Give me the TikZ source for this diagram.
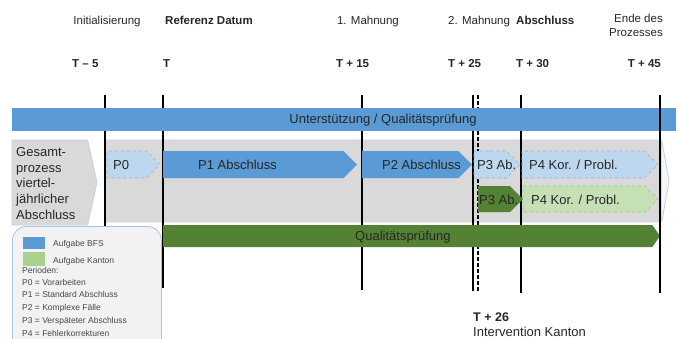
\documentclass[tikz,border=0pt]{standalone}
\usepackage{fontspec}
\setmainfont{Liberation Sans}
\usetikzlibrary{shapes.symbols}

\definecolor{bfsBlue}{HTML}{5B9BD5}
\definecolor{paleBlue}{HTML}{BDD7EE}
\definecolor{paleLine}{HTML}{8FB4DC}
\definecolor{procGray}{HTML}{D9D9D9}
\definecolor{procLine}{HTML}{C3D1E0}
\definecolor{procPale}{HTML}{F4F6F8}
\definecolor{darkGreen}{HTML}{548235}
\definecolor{paleGreen}{HTML}{C5E0B4}
\definecolor{greenLine}{HTML}{9CC585}
\definecolor{kantonGreen}{HTML}{A9D18E}
\definecolor{legendFill}{HTML}{F2F2F2}
\definecolor{legendLine}{HTML}{A9C4E4}
\definecolor{inkGray}{HTML}{262626}

\begin{document}
\begin{tikzpicture}[x = 1pt, y = -1pt]
	\tikzstyle{arrowStyle} = [shape = signal, signal to = east, inner sep = 0pt, outer sep = 0pt, anchor = west]
	\tikzstyle{boxStyle} = [shape = rectangle, inner sep = 0pt, outer sep = 0pt, anchor = west]
	\tikzstyle{bfsStyle} = [arrowStyle, fill = bfsBlue, minimum height = 27pt, signal pointer angle = 90]
	\tikzstyle{openStyle} = [arrowStyle, fill = paleBlue, draw = paleLine, dashed, line width = 0.6pt, minimum height = 27pt, signal pointer angle = 90]
	\tikzstyle{kantonStyle} = [arrowStyle, fill = darkGreen, minimum height = 26pt, signal pointer angle = 90]
	\tikzstyle{kantonOpenStyle} = [arrowStyle, fill = paleGreen, draw = greenLine, dashed, line width = 0.6pt, minimum height = 26pt, signal pointer angle = 90]
	\tikzstyle{timeLine} = [draw = black, line width = 1.3pt]
	\tikzstyle{headText} = [inner sep = 0pt, text = inkGray, font = \fontsize{11.5}{14}\selectfont]
	\tikzstyle{dayText} = [inner sep = 0pt, text = inkGray, font = \bfseries\fontsize{11.5}{14}\selectfont]
	\tikzstyle{barText} = [inner sep = 0pt, anchor = west, text = inkGray, font = \fontsize{13}{15.7}\selectfont]
	\tikzstyle{legendText} = [inner sep = 0pt, anchor = base west, text = inkGray!85, font = \fontsize{8.5}{10}\selectfont]

	\clip (0,0) rectangle (678,338);
	\fill[white] (0,0) rectangle (678,338);

	% process frame
	\node[arrowStyle, fill = procGray, draw = procLine, line width = 0.8pt, minimum width = 85pt, minimum height = 85pt, signal pointer angle = 155] (gesamt) at (12,182.5) {};
	\node[arrowStyle, fill = procPale, draw = procLine, line width = 0.8pt, minimum width = 564pt, minimum height = 82pt, signal pointer angle = 160] (frame) at (105,181) {};
	\node[boxStyle, fill = procGray, minimum width = 557pt, minimum height = 82pt] (frameFill) at (105,181) {};

	% time lines
	\coordinate (tm5Top) at (105,95);   \coordinate (tm5Bot) at (105,290);
	\coordinate (t0Top) at (163,95);    \coordinate (t0Bot) at (163,288);
	\coordinate (t15Top) at (362,95);   \coordinate (t15Bot) at (362,290);
	\coordinate (t25Top) at (473,95);   \coordinate (t25Bot) at (473,291);
	\coordinate (t26Top) at (478,95);   \coordinate (t26Bot) at (478,291);
	\coordinate (t30Top) at (521,95);   \coordinate (t30Bot) at (521,293);
	\coordinate (t45Top) at (660,95);   \coordinate (t45Bot) at (660,293);
	\draw[timeLine] (tm5Top) -- (tm5Bot);
	\draw[timeLine] (t0Top) -- (t0Bot);
	\draw[timeLine] (t15Top) -- (t15Bot);
	\draw[timeLine] (t25Top) -- (t25Bot);
	\draw[timeLine, line width = 1.1pt, dash pattern = on 4pt off 2pt] (t26Top) -- (t26Bot);
	\draw[timeLine] (t30Top) -- (t30Bot);

	% bars
	\node[boxStyle, fill = bfsBlue, minimum width = 664pt, minimum height = 23pt] (support) at (12,119.5) {};
	\node[openStyle, minimum width = 53pt] (p0) at (107,164.5) {};
	\node[bfsStyle, minimum width = 194pt] (p1) at (163,164.5) {};
	\node[bfsStyle, minimum width = 110pt] (p2) at (362,164.5) {};
	\node[openStyle, minimum width = 46pt] (p3Bfs) at (474,164.5) {};
	\node[openStyle, minimum width = 136pt] (p4Bfs) at (522,164.5) {};
	\node[kantonStyle, minimum width = 45pt] (p3Kanton) at (478,199) {};
	\node[kantonOpenStyle, minimum width = 135pt] (p4Kanton) at (523,199) {};
	\node[arrowStyle, fill = darkGreen, minimum width = 497pt, minimum height = 22pt, signal pointer angle = 110] (quality) at (163,236) {};

	% legend
	\node[shape = rectangle, anchor = north west, fill = legendFill, draw = legendLine, line width = 0.8pt, rounded corners = 14pt, minimum width = 149pt, minimum height = 130pt] (legend) at (12,226) {};
	\node[boxStyle, anchor = north west, fill = bfsBlue, minimum width = 22pt, minimum height = 12pt] (keyBfs) at (23,237) {};
	\node[boxStyle, anchor = north west, fill = kantonGreen, minimum width = 22pt, minimum height = 14pt] (keyKanton) at (23,252) {};

	\draw[timeLine, line width = 1.5pt] (t45Top) -- (t45Bot);

	% texts
	\node[headText, anchor = base] (initText) at (107,24) {Initialisierung};
	\node[headText, anchor = base west, font = \bfseries\fontsize{11.5}{14}\selectfont] (refText) at (165,24) {Referenz Datum};
	\node[headText, anchor = base] (mahn1Text) at (368,24) {1. Mahnung};
	\node[headText, anchor = base west] (mahn2Text) at (448,24) {2. Mahnung};
	\node[headText, anchor = base west, font = \bfseries\fontsize{11.5}{14}\selectfont] (closeText) at (516,24) {Abschluss};
	\node[headText, anchor = north east, align = right] (endText) at (663,13.5) {Ende des\\Prozesses};

	\node[dayText, anchor = base west] (tm5Text) at (72,67) {T -- 5};
	\node[dayText, anchor = base west] (t0Text) at (163,67) {T};
	\node[dayText, anchor = base west] (t15Text) at (336,67) {T + 15};
	\node[dayText, anchor = base west] (t25Text) at (448,67) {T + 25};
	\node[dayText, anchor = base west] (t30Text) at (516,67) {T + 30};
	\node[dayText, anchor = base east] (t45Text) at (661,67) {T + 45};

	\node[barText, anchor = center] (supportText) at (383,120) {Unterstützung / Qualitätsprüfung};
	\node[barText, align = left] (gesamtText) at (16,183.5) {Gesamt-\\prozess\\viertel-\\jährlicher\\Abschluss};
	\node[barText] (p0Text) at (113,165) {P0};
	\node[barText] (p1Text) at (198,165) {P1 Abschluss};
	\node[barText] (p2Text) at (382,165) {P2 Abschluss};
	\node[barText] (p3BfsText) at (477,165) {P3 Ab.};
	\node[barText] (p4BfsText) at (529,165) {P4 Kor. / Probl.};
	\node[barText] (p3KantonText) at (479,200) {P3 Ab.};
	\node[barText] (p4KantonText) at (531,200) {P4 Kor. / Probl.};
	\node[barText] (qualityText) at (355,237) {Qualitätsprüfung};

	\node[legendText] (bfsText) at (53,246) {Aufgabe BFS};
	\node[legendText] (kantonText) at (53,263) {Aufgabe Kanton};
	\node[legendText] (periodText) at (22,273) {Perioden:};
	\node[legendText] (p0Key) at (22,285) {P0 = Vorarbeiten};
	\node[legendText] (p1Key) at (22,297) {P1 = Standard Abschluss};
	\node[legendText] (p2Key) at (22,310) {P2 = Komplexe Fälle};
	\node[legendText] (p3Key) at (22,323) {P3 = Verspäteter Abschluss};
	\node[legendText] (p4Key) at (22,336) {P4 = Fehlerkorrekturen};

	\node[dayText, anchor = base west, font = \bfseries\fontsize{12.5}{15}\selectfont] (t26Text) at (473,321) {T + 26};
	\node[headText, anchor = base west, font = \fontsize{13}{15}\selectfont] (t26Note) at (473,336) {Intervention Kanton};
\end{tikzpicture}
\end{document}
